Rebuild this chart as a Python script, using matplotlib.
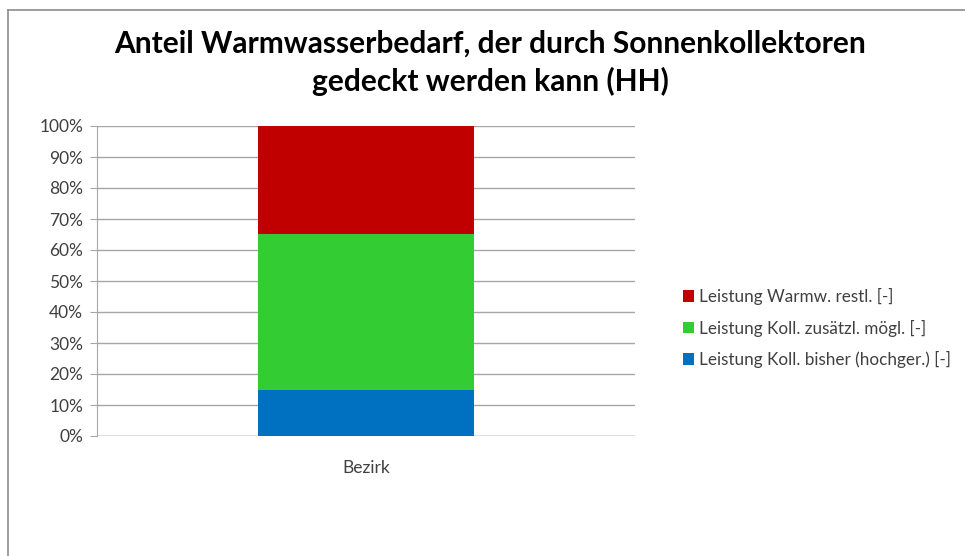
import matplotlib
matplotlib.use("Agg")
import matplotlib.pyplot as plt
from matplotlib.lines import Line2D
from matplotlib.ticker import PercentFormatter

categories = ["Bezirk"]
series_names = ["Leistung Koll. bisher (hochger.) [-]",
                "Leistung Koll. zusätzl. mögl. [-]",
                "Leistung Warmw. restl. [-]"]
series_values = [[0.148], [0.503], [0.349]]
colors = ["#0070C0", "#33CC33", "#C00000"]
yticks = [0.0, 0.1, 0.2, 0.3, 0.4, 0.5, 0.6, 0.7, 0.8, 0.9, 1.0]

plt.rcParams["font.family"] = ["Lato", "DejaVu Sans"]

W, H = 965, 556
fig = plt.figure(figsize=(W / 100, H / 100), dpi=100)
ax = fig.add_axes([97 / W, 1 - 436 / H, (635 - 97) / W, (436 - 126) / H])

bottom = [0.0] * len(categories)
handles = []
for name, vals, col in zip(series_names, series_values, colors):
    bars = ax.bar(categories, vals, width=0.4, bottom=bottom, color=col,
                  label=name, zorder=3)
    handles.append(bars)
    bottom = [b + v for b, v in zip(bottom, vals)]

ax.set_xlim(-0.5, 0.5)
ax.set_ylim(0, 1)
ax.set_yticks(yticks)
ax.yaxis.set_major_formatter(PercentFormatter(1.0, decimals=0))
ax.grid(axis="y", color="#a6a6a6", linewidth=1, zorder=0)
for s in ["top", "right", "bottom"]:
    ax.spines[s].set_visible(False)
ax.spines["left"].set_color("#a6a6a6")
ax.axhline(0, color="#a6a6a6", linewidth=1, zorder=2)
ax.tick_params(axis="y", length=5, color="#a6a6a6", labelsize=12.5,
               labelcolor="#404040", pad=5)
ax.tick_params(axis="x", length=0, labelsize=12.5, labelcolor="#404040", pad=17)

leg = fig.legend(handles=handles[::-1], labels=series_names[::-1],
                 loc="center left", bbox_to_anchor=(668 / W, 1 - 328 / H),
                 frameon=False, fontsize=12.3, handlelength=0.65,
                 handleheight=0.65, handletextpad=0.25, labelspacing=0.85)
for t in leg.get_texts():
    t.set_color("#404040")

fig.text(490 / W, 1 - 63 / H,
         "Anteil Warmwasserbedarf, der durch Sonnenkollektoren\ngedeckt werden kann (HH)",
         ha="center", va="center", fontsize=21.5, fontweight="bold",
         linespacing=1.4, color="#000000")

# chart area border (top and left edges visible)
fig.add_artist(Line2D([8 / W, 1], [1 - 10 / H, 1 - 10 / H], color="#8c8c8c",
                      linewidth=1.2, transform=fig.transFigure))
fig.add_artist(Line2D([8 / W, 8 / W], [1 - 10 / H, 0], color="#8c8c8c",
                      linewidth=1.2, transform=fig.transFigure))

fig.savefig("out.png", dpi=100)
